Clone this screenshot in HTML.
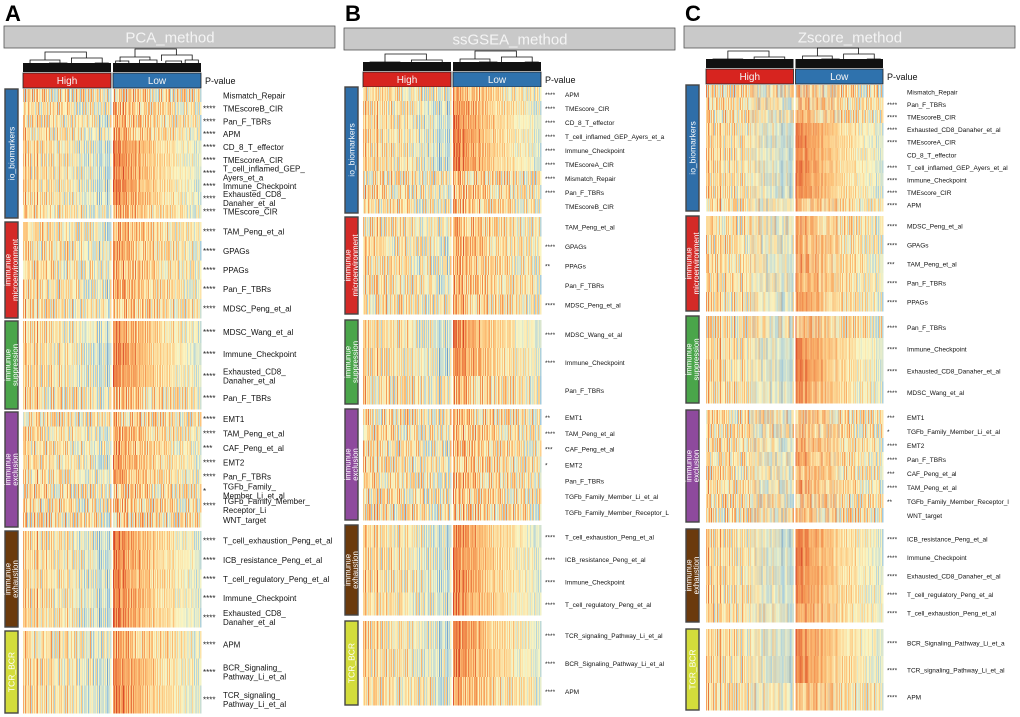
<!DOCTYPE html>
<html><head><meta charset="utf-8">
<style>
html,body{margin:0;padding:0;background:#fff;}
svg{display:block;font-family:"Liberation Sans",sans-serif;}
</style></head>
<body>
<svg id="fig" width="1020" height="717" viewBox="0 0 1020 717" xmlns="http://www.w3.org/2000/svg"></svg>
<script>
// ---- data ----
const hiProfile = "758647573657468546375647536574635463756453647535463546352463524352463524352413243524132435265";
const loProfile = "998989987898887877878787678767767676766576656566565655656555654545455454544544454343434343";
const stripeProfile = "7362859173648291736482519374628159372648157392648517392648173829465718293746582917364528193746";
const sectionNames = ["io_biomarkers","immunue|microenvironment","immunue|suppression","immunue|exclusion","immunue|exhaustion","TCR_BCR"];
const sectionColors = ["#2f6ea8","#d42a27","#4aa54a","#8e4a9d","#6b3a0d","#d3dc3b"];
// rows: [label, stars, contrast]
const panelARows = [
 [["Mismatch_Repair","",0.2],["TMEscoreB_CIR","****",0.45],["Pan_F_TBRs","****",0.5],["APM","****",0.55],["CD_8_T_effector","****",0.95],["TMEscoreA_CIR","****",0.95],["T_cell_inflamed_GEP_|Ayers_et_a","****",0.95],["Immune_Checkpoint","****",0.95],["Exhausted_CD8_|Danaher_et_al","****",0.9],["TMEscore_CIR","****",0.6]],
 [["TAM_Peng_et_al","****",0.6],["GPAGs","****",0.6],["PPAGs","****",0.55],["Pan_F_TBRs","****",0.6],["MDSC_Peng_et_al","****",0.45]],
 [["MDSC_Wang_et_al","****",0.8],["Immune_Checkpoint","****",0.95],["Exhausted_CD8_|Danaher_et_al","****",0.95],["Pan_F_TBRs","****",0.4]],
 [["EMT1","****",0.3],["TAM_Peng_et_al","****",0.6],["CAF_Peng_et_al","***",0.6],["EMT2","****",0.7],["Pan_F_TBRs","****",0.65],["TGFb_Family_|Member_Li_et_al","*",0.3],["TGFb_Family_Member_|Receptor_Li","****",0.3],["WNT_target","",0.2]],
 [["T_cell_exhaustion_Peng_et_al","****",0.95],["ICB_resistance_Peng_et_al","****",0.9],["T_cell_regulatory_Peng_et_al","****",0.9],["Immune_Checkpoint","****",0.95],["Exhausted_CD8_|Danaher_et_al","****",0.95]],
 [["APM","****",0.6],["BCR_Signaling_|Pathway_Li_et_al","****",0.9],["TCR_signaling_|Pathway_Li_et_al","****",0.9]]
];
const panelBRows = [
 [["APM","****",0.6],["TMEscore_CIR","****",0.8],["CD_8_T_effector","****",0.95],["T_cell_inflamed_GEP_Ayers_et_a","****",0.95],["Immune_Checkpoint","****",0.95],["TMEscoreA_CIR","****",0.95],["Mismatch_Repair","****",0.3],["Pan_F_TBRs","****",0.45],["TMEscoreB_CIR","",0.4]],
 [["TAM_Peng_et_al","",0.5],["GPAGs","****",0.55],["PPAGs","**",0.5],["Pan_F_TBRs","",0.5],["MDSC_Peng_et_al","****",0.4]],
 [["MDSC_Wang_et_al","****",0.9],["Immune_Checkpoint","****",0.85],["Pan_F_TBRs","",0.4]],
 [["EMT1","**",0.3],["TAM_Peng_et_al","****",0.4],["CAF_Peng_et_al","***",0.4],["EMT2","*",0.4],["Pan_F_TBRs","",0.4],["TGFb_Family_Member_Li_et_al","",0.35],["TGFb_Family_Member_Receptor_L","",0.25]],
 [["T_cell_exhaustion_Peng_et_al","****",0.9],["ICB_resistance_Peng_et_al","****",0.95],["Immune_Checkpoint","****",0.9],["T_cell_regulatory_Peng_et_al","****",0.85]],
 [["TCR_signaling_Pathway_Li_et_al","****",0.95],["BCR_Signaling_Pathway_Li_et_al","****",0.9],["APM","****",0.6]]
];
const panelCRows = [
 [["Mismatch_Repair","",0.2],["Pan_F_TBRs","****",0.4],["TMEscoreB_CIR","****",0.4],["Exhausted_CD8_Danaher_et_al","****",0.95],["TMEscoreA_CIR","****",0.95],["CD_8_T_effector","",0.95],["T_cell_inflamed_GEP_Ayers_et_al","****",0.95],["Immune_Checkpoint","****",0.95],["TMEscore_CIR","****",0.9],["APM","****",0.5]],
 [["MDSC_Peng_et_al","****",0.5],["GPAGs","****",0.6],["TAM_Peng_et_al","***",0.6],["Pan_F_TBRs","****",0.7],["PPAGs","****",0.7]],
 [["Pan_F_TBRs","****",0.4],["Immune_Checkpoint","****",0.95],["Exhausted_CD8_Danaher_et_al","****",0.95],["MDSC_Wang_et_al","****",0.8]],
 [["EMT1","***",0.3],["TGFb_Family_Member_Li_et_al","*",0.35],["EMT2","****",0.55],["Pan_F_TBRs","****",0.6],["CAF_Peng_et_al","***",0.5],["TAM_Peng_et_al","****",0.55],["TGFb_Family_Member_Receptor_l","**",0.3],["WNT_target","",0.25]],
 [["ICB_resistance_Peng_et_al","****",0.95],["Immune_Checkpoint","****",0.95],["Exhausted_CD8_Danaher_et_al","****",0.95],["T_cell_regulatory_Peng_et_al","****",0.85],["T_cell_exhaustion_Peng_et_al","****",0.75]],
 [["BCR_Signaling_Pathway_Li_et_a","****",0.9],["TCR_signaling_Pathway_Li_et_al","****",0.9],["APM","****",0.55]]
];
// ---- layout (not data) ----
const panels = [
 {letter:"A",title:"PCA_method",ox:0,titleY:26,dendY:49,barY:73,hx0:23,hx1:201,side:5,starX:203,nameX:223,fs:8,rows:panelARows,
  sec:[[89,218],[222,318],[321,409],[412,527],[531,627],[631,713]]},
 {letter:"B",title:"ssGSEA_method",ox:340,titleY:28,dendY:51,barY:72,hx0:363,hx1:541,side:345,starX:545,nameX:565,fs:6.5,rows:panelBRows,
  sec:[[87,213],[217,314],[320,404],[409,520],[525,615],[621,705]]},
 {letter:"C",title:"Zscore_method",ox:680,titleY:26,dendY:48,barY:69,hx0:706,hx1:883,side:686,starX:887,nameX:907,fs:6.5,rows:panelCRows,
  sec:[[85,211],[216,311],[316,403],[410,522],[529,622],[629,710]]}
];
const NS="http://www.w3.org/2000/svg";
const svg=document.getElementById('fig');
function mk(tag,attrs,parent){const e=document.createElementNS(NS,tag);for(const k in attrs)e.setAttribute(k,attrs[k]);(parent||svg).appendChild(e);return e;}
const stops=[[0,[63,114,176]],[2.2,[156,200,224]],[4.5,[250,246,196]],[6.2,[253,200,128]],[7.6,[243,146,80]],[9,[215,70,40]]];
function color(v){v=Math.max(0,Math.min(9,v));for(let i=1;i<stops.length;i++){if(v<=stops[i][0]){const a=stops[i-1],b=stops[i];const t=(v-a[0])/(b[0]-a[0]);const c=a[1].map((x,j)=>Math.round(x+(b[1][j]-x)*t));return `rgb(${c[0]},${c[1]},${c[2]})`;}}return 'rgb(215,70,40)';}
const NC=88;
panels.forEach((p,pi)=>{
  const g=mk('g',{});
  
  
  const L=mk('text',{x:p.ox+5,y:21,'font-size':22,'font-weight':'bold',fill:'#000'},g);L.textContent=p.letter;
  
  const tb=mk('rect',{x:p.ox+4,y:p.titleY,width:331,height:22,fill:'#c9c9c9',stroke:'#555','stroke-width':0.8},g);
  
  const tt=mk('text',{x:p.ox+170,y:p.titleY+16.5,'font-size':15,fill:'#f4f4f4','text-anchor':'middle'},g);tt.textContent=p.title;
  
  const mid=(p.hx0+p.hx1)/2;
  const groups=[[p.hx0,mid-1,'#d7241f','High'],[mid+1,p.hx1,'#2f72ad','Low']];
  groups.forEach((gr,gi)=>{
    const [a,b,col,lab]=gr;
    const dg=mk('g',{stroke:'#111','stroke-width':0.8,fill:'none'},g);
    
    const top=p.dendY+(gi?0:3), w=b-a;
    mk('path',{d:`M${a+w*0.25},${top+8} V${top} H${a+w*0.72} V${top+6}`},dg);
    mk('path',{d:`M${a+w*0.08},${top+13} V${top+8} H${a+w*0.42} V${top+11} M${a+w*0.55},${top+12} V${top+6} H${a+w*0.9} V${top+11}`},dg);
    mk('path',{d:`M${a+w*0.03},${top+15} V${top+12} H${a+w*0.18} V${top+14} M${a+w*0.3},${top+15} V${top+11} H${a+w*0.5} V${top+14} M${a+w*0.6},${top+15} V${top+12} H${a+w*0.78} V${top+14} M${a+w*0.82},${top+15} V${top+11} H${a+w*0.97} V${top+14}`},dg);
    mk('rect',{x:a,y:p.barY-10,width:w,height:9,fill:'#111',stroke:'none'},dg);
    const br=mk('rect',{x:a,y:p.barY,width:w,height:15,fill:col,stroke:'#222','stroke-width':0.8},g);
    
    const bt=mk('text',{x:(a+b)/2,y:p.barY+11,'font-size':10,fill:'#f5f5f5','text-anchor':'middle'},g);bt.textContent=lab;
    
  });
  const pv=mk('text',{x:p.hx1+4,y:p.barY+11,'font-size':9,fill:'#111'},g);pv.textContent='P-value';
  
  p.sec.forEach((s,si)=>{
    const [y0,y1]=s;
    const sb=mk('rect',{x:p.side,y:y0,width:13,height:y1-y0,fill:sectionColors[si],stroke:'#444','stroke-width':1.4},g);
    
    const parts=sectionNames[si].split('|');
    const cx=p.side+6.5, cy=(y0+y1)/2;
    parts.forEach((pt,k)=>{
      const off=(k-(parts.length-1)/2)*7.2;
      const st=mk('text',{x:0,y:0,'font-size':parts.length>1?7.8:8.5,fill:'#fff','text-anchor':'middle',transform:`translate(${cx+off+(parts.length>1?2.8:3)},${cy}) rotate(-90)`},g);
      st.textContent=pt;
      
    });
    const rows=p.rows[si];
    const rh=(y1-y0)/rows.length;
    rows.forEach((row,ri)=>{
      const [name,stars,con]=row;
      const ry=y0+ri*rh;
      const hg=mk('g',{'shape-rendering':'crispEdges'},g);
      
      groups.forEach((gr,gi)=>{
        const [a,b]=gr;const cw=(b-a)/NC;
        const prof=gi?loProfile:hiProfile;
        for(let c=0;c<NC;c++){
          const pvv=+prof[c%prof.length];
          const sv=+stripeProfile[(c*7+ri*13+si*5+pi*3+gi*17)%stripeProfile.length];
          const v=con*(pvv*0.85+sv*0.15)+(1-con)*(sv*0.75+1.4);
          const r=mk('rect',{x:(a+c*cw).toFixed(2),y:ry.toFixed(2),width:(cw+0.3).toFixed(2),height:(rh+0.3).toFixed(2),fill:color(v)},hg);
          
          
        }
      });
      const cy2=ry+rh/2+3;
      if(stars){const s2=mk('text',{x:p.starX,y:cy2,'font-size':p.fs,fill:'#222'},g);s2.textContent=stars;
        }
      const lines=name.split('|');
      lines.forEach((ln,k)=>{
        const t=mk('text',{x:p.nameX,y:cy2+(k-(lines.length-1)/2)*(p.fs+1),'font-size':p.fs,fill:'#111'},g);
        t.textContent=ln;
        
      });
    });
  });
});
</script>
</body></html>
